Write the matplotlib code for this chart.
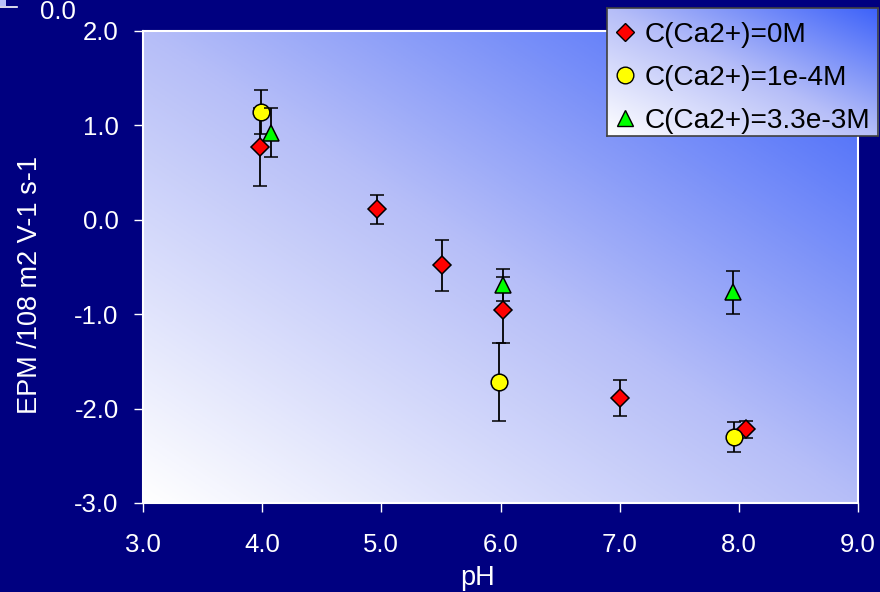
import numpy as np
import matplotlib
matplotlib.use("Agg")
import matplotlib.pyplot as plt
from matplotlib.colors import LinearSegmentedColormap
from matplotlib.lines import Line2D

plt.rcParams['font.family'] = ['Liberation Sans', 'DejaVu Sans']

# ---- data ----
labels = ["C(Ca2+)=0M", "C(Ca2+)=1e-4M", "C(Ca2+)=3.3e-3M"]
ph_0 = [3.98, 4.96, 5.51, 6.02, 7.00, 8.06]
epm_0 = [0.77, 0.11, -0.48, -0.96, -1.89, -2.22]
err_0 = [0.41, 0.15, 0.27, 0.35, 0.19, 0.09]

ph_1 = [3.99, 5.99, 7.96]
epm_1 = [1.14, -1.72, -2.30]
err_1 = [0.23, 0.41, 0.16]

ph_2 = [4.07, 6.02, 7.95]
epm_2 = [0.92, -0.69, -0.77]
err_2 = [0.26, 0.17, 0.23]

xticks = [3.0, 4.0, 5.0, 6.0, 7.0, 8.0, 9.0]
yticks = [-3.0, -2.0, -1.0, 0.0, 1.0, 2.0]

NAVY = "#000080"
W, H = 880, 592
fig = plt.figure(figsize=(W / 100, H / 100), dpi=100, facecolor=NAVY)

cmap = LinearSegmentedColormap.from_list(
    "grad", [(0.0, "#FFFFFF"), (0.5, "#B6BEF8"), (1.0, "#3D62FA")])
n = 300
u = np.linspace(0, 1, n)
U, V = np.meshgrid(u, u)
G = (U + V) / 2.0

ax = fig.add_axes([143 / W, 1 - 503 / H, (858 - 143) / W, (503 - 31) / H])
ax.imshow(G, cmap=cmap, origin="lower", extent=[0, 1, 0, 1],
          transform=ax.transAxes, aspect="auto", zorder=0, vmin=0, vmax=1)

ekw = dict(ecolor="black", elinewidth=1.3, capsize=4.7, capthick=1.3,
           linestyle="none", markeredgecolor="black", markeredgewidth=1.1)
ax.errorbar(ph_0, epm_0, yerr=err_0, marker="D", markersize=9.5,
            markerfacecolor="#FF0000", zorder=3, **ekw)
ax.errorbar(ph_1, epm_1, yerr=err_1, marker="o", markersize=12,
            markerfacecolor="#FFFF00", zorder=4, **ekw)
ax.errorbar(ph_2, epm_2, yerr=err_2, marker="^", markersize=12,
            markerfacecolor="#00FF00", zorder=5, **ekw)

ax.set_xlim(3, 9)
ax.set_ylim(-3, 2)
ax.set_xticks(xticks)
ax.set_yticks(yticks)
ax.set_xticklabels([f"{t:.1f}" for t in xticks])
ax.set_yticklabels([f"{t:.1f}" for t in yticks])
ax.tick_params(axis="both", colors="white", labelcolor="white",
               labelsize=18.5, length=6.5, width=1.0, direction="out")
ax.tick_params(axis="x", pad=15)
ax.tick_params(axis="y", pad=11)
for s in ax.spines.values():
    s.set_color("white")
    s.set_linewidth(1.5)

fig.text(30 / W, 1 - 285 / H, "EPM /108 m2 V-1 s-1", rotation=90,
         color="white", fontsize=19.5, ha="center", va="center")
fig.text(478 / W, 1 - 578 / H, "pH", color="white", fontsize=19.5,
         ha="center", va="center")

# stray label in the top-left corner
fig.text(58 / W, 1.0, "0.0", color="white", fontsize=18.5,
         ha="center", va="top")
fig.add_artist(Line2D([0, 17 / W], [1 - 7 / H, 1 - 7 / H], color="white",
                      lw=1.2, transform=fig.transFigure))
lax0 = fig.add_axes([0, 1 - 6 / H, 6 / W, 6 / H])
lax0.set_facecolor("#B8C0F8")
lax0.set_xticks([]); lax0.set_yticks([])
for s in lax0.spines.values():
    s.set_visible(False)

# legend with gradient background
lx0, lx1, ly0, ly1 = 607, 878, 8, 136
lax = fig.add_axes([lx0 / W, 1 - ly1 / H, (lx1 - lx0) / W, (ly1 - ly0) / H],
                   zorder=5)
lax.imshow(G, cmap=cmap, origin="lower", extent=[0, 1, 0, 1], aspect="auto")
lax.set_xlim(0, 1); lax.set_ylim(0, 1)
lax.set_xticks([]); lax.set_yticks([])
for s in lax.spines.values():
    s.set_color("#404040")
    s.set_linewidth(1.2)

handles = [
    Line2D([], [], marker="D", markersize=9.5, markerfacecolor="#FF0000",
           markeredgecolor="black", linestyle="none"),
    Line2D([], [], marker="o", markersize=12, markerfacecolor="#FFFF00",
           markeredgecolor="black", linestyle="none"),
    Line2D([], [], marker="^", markersize=12, markerfacecolor="#00FF00",
           markeredgecolor="black", linestyle="none"),
]
leg = lax.legend(handles, labels, loc="center left", bbox_to_anchor=(0.005, 0.455),
                 frameon=False, fontsize=20.2, handlelength=0.8,
                 handletextpad=0.3, labelspacing=0.6, borderaxespad=0.0,
                 borderpad=0.2)
for t in leg.get_texts():
    t.set_color("black")

fig.savefig("out.png", dpi=100, facecolor=NAVY)
